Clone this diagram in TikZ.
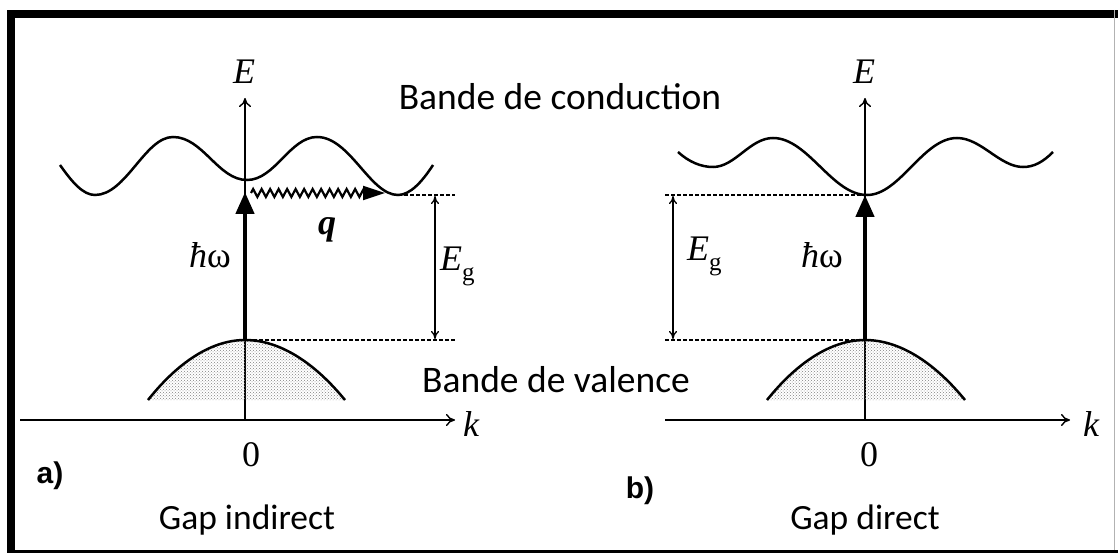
\documentclass[tikz,border=0pt]{standalone}
\usepackage{fontspec}
\setmainfont{Liberation Serif}
\newfontfamily\calib{Carlito}
\newfontfamily\arialf{Liberation Sans}
\usetikzlibrary{arrows.meta,decorations.pathmorphing,patterns}
\tikzset{
  axisline/.style={line width=1.4pt,-{To[length=9pt,width=12pt]}},
  bandline/.style={line width=2.5pt},
  gapline/.style={dash pattern=on 4pt off 2pt,line width=1.1pt},
  photon/.style={line width=4.5pt,-{Triangle[length=22pt,width=18pt]}},
  egarrow/.style={line width=1.3pt,{To[length=8pt,width=8pt]}-{To[length=8pt,width=8pt]}},
  phonon/.style={line width=2.2pt,decorate,decoration={zigzag,amplitude=4pt,segment length=8.5pt,post length=18pt},-{Triangle[length=22pt,width=14pt]}},
  valfill/.style={pattern=crosshatch dots,pattern color=gray},
  sanslabel/.style={inner sep=0pt,font=\calib\fontsize{37.5}{40}\selectfont},
  gaplabel/.style={inner sep=0pt,font=\calib\fontsize{35.5}{38}\selectfont},
  panellabel/.style={inner sep=0pt,font=\arialf\bfseries\fontsize{30}{32}\selectfont},
  symlabel/.style={inner sep=0pt,font=\fontsize{36}{38}\selectfont},
}
\begin{document}
\begin{tikzpicture}[x=1pt,y=-1pt]
\useasboundingbox (0,0) rectangle (1118,553);
% frame
\coordinate (ftl) at (11,14);
\coordinate (ftr) at (1118,14);
\coordinate (fbl) at (11,553);
\draw[line width=8pt] (fbl) -- (ftl) -- (ftr);
\draw[line width=3pt] (7,551) -- (1118,551);
\draw[line width=1pt,gray!60] (1114,10) -- (1114,550);

% ---------- panel a ----------
\coordinate (oa) at (245,420);
\coordinate (etopa) at (245,98);
\coordinate (kla) at (20,420);
\coordinate (kra) at (455,420);
\draw[axisline] (oa) -- (etopa);
\draw[axisline] (kla) -- (kra);
\node[symlabel] (Ea) at (244,72) {\itshape E};
\node[symlabel] (ka) at (471,424) {\itshape k};
\node[symlabel] (za) at (251,455) {0};
\node[panellabel] (pa) at (50,476) {a)};
\node[gaplabel] (ga) at (247,520) {Gap indirect};

% conduction band a
\draw[bandline] (60,165) .. controls (72,182) and (83,195) .. (95,195)
  .. controls (126,195) and (145,137) .. (173,137)
  .. controls (203,137) and (218,180) .. (247,180)
  .. controls (275,180) and (290,137) .. (317,137)
  .. controls (350,137) and (370,195) .. (398,195)
  .. controls (410,195) and (422,182) .. (433,165);
% valence band a
\fill[valfill] (148,400) parabola bend (245,340) (345,400) -- cycle;
\draw[bandline] (148,400) parabola bend (245,340) (345,400);
% gap lines a
\coordinate (cmina) at (398,195);
\coordinate (cdashra) at (455,195);
\coordinate (vtopa) at (247,340);
\coordinate (vdashra) at (455,340);
\draw[gapline] (cmina) -- (cdashra);
\draw[gapline] (vtopa) -- (vdashra);
\coordinate (egta) at (435,196);
\coordinate (egba) at (435,339);
\draw[egarrow] (egta) -- (egba);
\node[symlabel,anchor=west] (Ega) at (440,266) {\itshape E\normalfont\raisebox{-0.28em}{\fontsize{25}{26}\selectfont g}};
% photon a
\coordinate (pha0) at (245,340);
\coordinate (pha1) at (245,192);
\draw[photon] (pha0) -- (pha1);
\node[symlabel] (hwa) at (210,255) {\itshape ħ\upshape ω};
% phonon
\coordinate (qa0) at (251,193);
\coordinate (qa1) at (385,193);
\draw[phonon] (qa0) -- (qa1);
\node[symlabel] (qlab) at (327,230) {\itshape\bfseries q};

% ---------- panel b ----------
\coordinate (ob) at (865,420);
\coordinate (etopb) at (865,98);
\coordinate (klb) at (665,420);
\coordinate (krb) at (1070,420);
\draw[axisline] (ob) -- (etopb);
\draw[axisline] (klb) -- (krb);
\node[symlabel] (Eb) at (864,72) {\itshape E};
\node[symlabel] (kb) at (1091,424) {\itshape k};
\node[symlabel] (zb) at (869,455) {0};
\node[panellabel] (pb) at (640,491) {b)};
\node[gaplabel] (gb) at (865,520) {Gap direct};

% conduction band b
\draw[bandline] (678,152) .. controls (689,162) and (701,167) .. (713,167)
  .. controls (735,167) and (750,138) .. (773,138)
  .. controls (808,138) and (832,195) .. (867,195)
  .. controls (900,195) and (923,138) .. (957,138)
  .. controls (981,138) and (1000,167) .. (1023,167)
  .. controls (1034,167) and (1043,162) .. (1053,152);
% valence band b
\fill[valfill] (767,400) parabola bend (865,340) (965,400) -- cycle;
\draw[bandline] (767,400) parabola bend (865,340) (965,400);
% gap lines b
\coordinate (cdashlb) at (665,195);
\coordinate (cminb) at (867,195);
\coordinate (vdashlb) at (665,340);
\coordinate (vtopb) at (865,340);
\draw[gapline] (cdashlb) -- (cminb);
\draw[gapline] (vdashlb) -- (vtopb);
\coordinate (egtb) at (673,196);
\coordinate (egbb) at (673,339);
\draw[egarrow] (egtb) -- (egbb);
\node[symlabel,anchor=west] (Egb) at (687,256) {\itshape E\normalfont\raisebox{-0.28em}{\fontsize{25}{26}\selectfont g}};
% photon b
\coordinate (phb0) at (865,340);
\coordinate (phb1) at (865,195);
\draw[photon] (phb0) -- (phb1);
\node[symlabel] (hwb) at (822,255) {\itshape ħ\upshape ω};

% shared labels
\node[sanslabel] (cond) at (560,97) {Bande de conduction};
\node[sanslabel] (val) at (556,380) {Bande de valence};
\end{tikzpicture}
\end{document}
